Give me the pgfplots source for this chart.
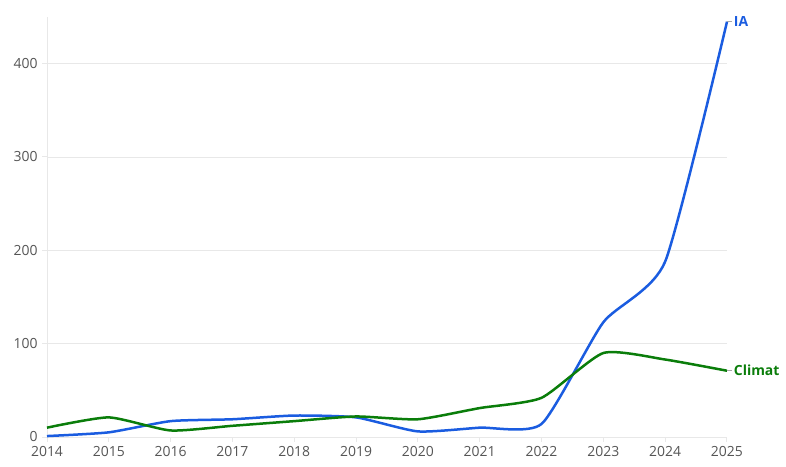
\documentclass[border=0pt]{standalone}
\usepackage{pgfplots}
\pgfplotsset{compat=1.18}
\usepackage{fontspec}
\setmainfont{Open Sans}
\definecolor{iablue}{HTML}{1A5CE0}
\definecolor{clgreen}{HTML}{0A7D0A}
\definecolor{gridgray}{HTML}{E8E8E8}
\definecolor{ticktext}{HTML}{555555}
\begin{document}
\begin{tikzpicture}
\path[use as bounding box] (-47bp,-30bp) rectangle (739bp,437bp);
\begin{axis}[
  at={(0bp,0bp)}, anchor=south west,
  scale only axis, width=680bp, height=420bp,
  xmin=2014, xmax=2025, ymin=0, ymax=450,
  xtick={2014,...,2025}, ytick={0,100,200,300,400},
  /pgf/number format/1000 sep={},
  /pgf/number format/assume math mode=true,
  tick label style={font=\fontsize{14}{16}\selectfont, text=ticktext},
  axis x line*=bottom, axis y line*=left,
  axis line style={draw=gridgray, line width=1bp},
  ymajorgrids, grid style={draw=gridgray, line width=0.8bp},
  major tick length=5bp,
  tick style={draw=gridgray, line width=1bp},
  xtick align=outside, ytick align=outside,
  xticklabel style={yshift=-1bp},
  yticklabel style={xshift=-1bp},
  clip=false,
]
\addplot[iablue, line width=2.5bp, smooth, tension=0.35] coordinates {
(2014,1) (2015,5) (2016,17) (2017,19) (2018,23) (2019,21) (2020,6) (2021,10) (2022,14) (2023,123) (2024,188) (2025,445)};
\addplot[clgreen, line width=2.5bp, smooth, tension=0.35] coordinates {
(2014,10) (2015,21) (2016,7) (2017,12) (2018,17) (2019,22) (2020,19) (2021,31) (2022,42) (2023,90) (2024,83) (2025,71)};
\draw[gray!70, line width=0.8bp] (axis cs:2025,445) -- ++(5bp,0bp) node[anchor=west, inner sep=1.5bp, text=iablue, font=\fontsize{14}{16}\selectfont\bfseries] {IA};
\draw[gray!70, line width=0.8bp] (axis cs:2025,71) -- ++(5bp,0bp) node[anchor=west, inner sep=1.5bp, text=clgreen, font=\fontsize{14}{16}\selectfont\bfseries] {Climat};
\end{axis}
\end{tikzpicture}
\end{document}
